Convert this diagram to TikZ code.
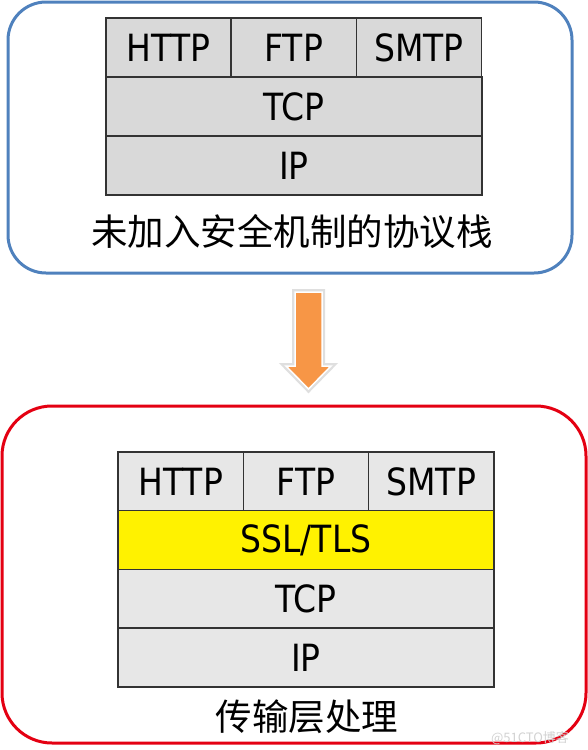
\documentclass[tikz,border=0pt]{standalone}
\usepackage{fontspec}
\usepackage{xcolor}
\usepackage{tikz}
\usetikzlibrary{positioning,calc}

\newfontfamily\stackfont[FakeStretch=0.88]{DejaVu Sans}
\newfontfamily\cjkfont{Noto Sans CJK SC}

\definecolor{frameblue}{RGB}{79,129,189}
\definecolor{framered}{RGB}{228,0,18}
\definecolor{arroworange}{RGB}{247,150,70}
\definecolor{celltop}{RGB}{217,217,217}
\definecolor{cellbot}{RGB}{231,231,231}

\begin{document}
\begin{tikzpicture}[
    x=1pt, y=-1pt,
    cell/.style={draw=black!80, line width=1.4pt, rectangle, inner sep=0pt, minimum height=59pt, font=\stackfont\fontsize{37.5}{40}\selectfont},
    appcell/.style={cell, minimum width=125.3pt},
    layer/.style={cell, minimum width=376pt},
    frame/.style={draw, rectangle, line width=3pt, inner sep=0pt},
    caption/.style={font=\cjkfont\fontsize{36.5}{40}\selectfont, inner sep=0pt}
]
    \useasboundingbox (0,0) rectangle (588,750);

    % Stack without security
    \node[frame, draw=frameblue, rounded corners=38pt, minimum width=564pt, minimum height=271pt] (plainframe) at (290,137.5) {};
    \node[appcell, fill=celltop] (http1) at (168.5,47.5) {HTTP};
    \node[appcell, fill=celltop] (ftp1) at (293.8,47.5) {FTP};
    \node[appcell, fill=celltop] (smtp1) at (419.1,47.5) {SMTP};
    \node[layer, fill=celltop] (tcp1) at (294,106.5) {TCP};
    \node[layer, fill=celltop] (ip1) at (294,165.5) {IP};
    \node[caption] (plaincap) at (292,232) {未加入安全机制的协议栈};

    % Arrow
    \draw[draw=gray!25, line width=6pt, fill=arroworange, line join=miter]
        (295,292) -- (322,292) -- (322,366) -- (331,366) -- (308.5,389) -- (286,366) -- (295,366) -- cycle;
    \fill[arroworange, draw=white, line width=1.5pt]
        (295,292) -- (322,292) -- (322,366) -- (331,366) -- (308.5,389) -- (286,366) -- (295,366) -- cycle;

    % Stack with SSL/TLS
    \node[frame, draw=framered, rounded corners=50pt, minimum width=584pt, minimum height=337pt] (secframe) at (294,574.5) {};
    \node[appcell, fill=cellbot, minimum height=58.7pt] (http2) at (180.7,481.4) {HTTP};
    \node[appcell, fill=cellbot, minimum height=58.7pt] (ftp2) at (306,481.4) {FTP};
    \node[appcell, fill=cellbot, minimum height=58.7pt] (smtp2) at (431.3,481.4) {SMTP};
    \node[layer, fill=yellow, minimum height=58.7pt] (ssl) at (306,540.1) {SSL/TLS};
    \node[layer, fill=cellbot, minimum height=58.7pt] (tcp2) at (306,598.8) {TCP};
    \node[layer, fill=cellbot, minimum height=58.7pt] (ip2) at (306,657.5) {IP};
    \node[caption] (seccap) at (307,717) {传输层处理};

    % Watermark
    \node[font=\cjkfont\fontsize{13}{14}\selectfont, text=gray!35, inner sep=0pt] (mark) at (530,738) {@51CTO博客};
\end{tikzpicture}
\end{document}
